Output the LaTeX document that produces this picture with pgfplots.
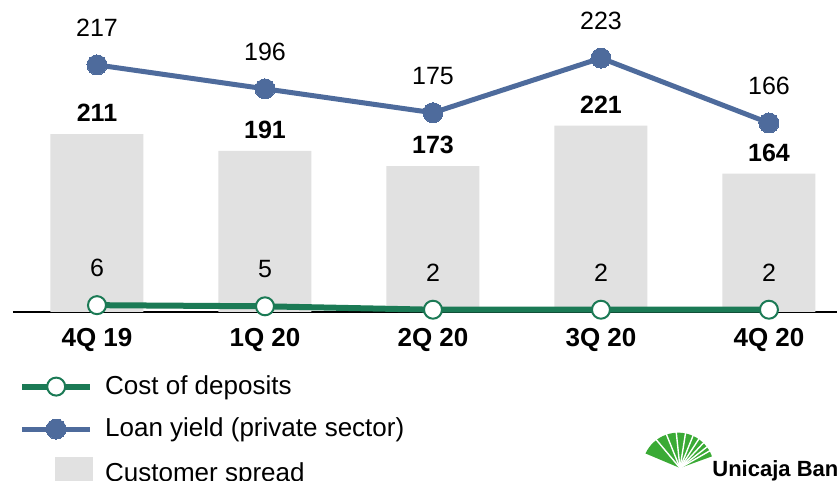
\documentclass[border=0pt]{standalone}
\usepackage{fontspec}
\setmainfont{Liberation Sans}
\usepackage{pgfplots}
\pgfplotsset{compat=1.18}
\definecolor{spread}{HTML}{E1E1E1}
\definecolor{loan}{HTML}{4E6B9C}
\definecolor{depo}{HTML}{1B7A55}
\definecolor{logo}{HTML}{3AAA35}
\pgfplotsset{
  common/.style={scale only axis, width=412pt, height=156pt, at={(0,0)}, anchor=south west,
    xmin=-0.5, xmax=4.405, ymin=0, clip=false,
    /pgf/number format/assume math mode=true},
  lineleg/.style={legend image code/.code={
    \path[draw=none, fill=none] (0pt,0pt) -- (35.5pt,0pt);
    \draw[mark repeat=2,mark phase=2,##1] plot coordinates {(0pt,0pt) (17pt,0pt) (34pt,0pt)};}},
}

\begin{document}
\begin{tikzpicture}
\path[use as bounding box] (-6.5pt,-84.5pt) rectangle (412pt,156pt);
\clip (-6.5pt,-84.5pt) rectangle (412pt,156pt);

% customer spread (bars)
\begin{axis}[common, ymax=370,
  axis x line=bottom, hide y axis,
  x axis line style={-, line width=0.75pt, black},
  xtick={0,...,4}, xticklabels={4Q 19,1Q 20,2Q 20,3Q 20,4Q 20},
  major tick length=0pt,
  xticklabel style={font=\fontsize{13}{15}\selectfont\bfseries, anchor=center, yshift=-14pt}]
\addplot[ybar, bar width=46.5pt, fill=spread, draw=none,
  nodes near coords,
  nodes near coords style={text=black, font=\fontsize{12.5}{15}\selectfont\bfseries, anchor=center, yshift=10.5pt}]
  coordinates {(0,211) (1,191) (2,173) (3,221) (4,164)};
\end{axis}

% yields (lines)
\begin{axis}[common, ymax=274, axis lines=none,
  legend cell align=left,
  legend style={draw=none, fill=none, at={(axis description cs:0.007,-0.19)}, anchor=north west,
    inner sep=0pt, row sep=6.3pt, font=\fontsize{13}{15}\selectfont,
    /tikz/every odd column/.append style={column sep=4pt}}]
\addplot[depo, line width=3pt, mark=*, mark size=4.5pt,
  mark options={fill=white, draw=depo, line width=1pt},
  nodes near coords,
  nodes near coords style={text=black, font=\fontsize{12.5}{15}\selectfont, anchor=center, yshift=18.5pt},
  lineleg]
  coordinates {(0,6) (1,5) (2,2) (3,2) (4,2)};
\addlegendentry{Cost of deposits}
\addplot[loan, line width=2.5pt, mark=*, mark size=5pt,
  mark options={fill=loan, draw=loan, line width=0pt},
  nodes near coords,
  nodes near coords style={text=black, font=\fontsize{12.5}{15}\selectfont, anchor=center, yshift=18.5pt},
  lineleg]
  coordinates {(0,217) (1,196) (2,175) (3,223) (4,166)};
\addlegendentry{Loan yield (private sector)}
\addlegendimage{legend image code/.code={
  \path[draw=none, fill=none] (0pt,0pt) -- (35.5pt,0pt);
  \fill[spread, draw=none] (16.5pt,-8.5pt) rectangle (35.5pt,8.5pt);}}
\addlegendentry{Customer spread}
\end{axis}

% logo
\fill[logo] (333.5pt,-78pt) -- ++(20:17pt) arc[start angle=20, end angle=155, radius=18pt] -- cycle;
\foreach \a in {30,38,47,57,68,81,96,112,130}
  \draw[white, line width=0.7pt] (333.5pt,-78pt) -- ++(\a:19pt);
\node[anchor=base west, inner sep=0pt, font=\fontsize{11}{13}\selectfont\bfseries] at (349.5pt,-82.5pt) {Unicaja Ban};
\end{tikzpicture}
\end{document}
